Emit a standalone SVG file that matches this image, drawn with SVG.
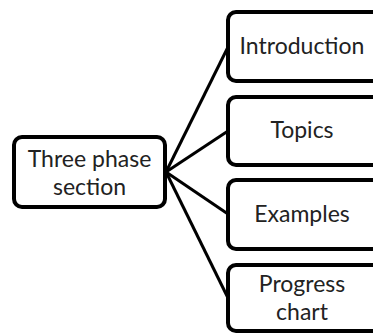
<svg xmlns="http://www.w3.org/2000/svg" width="373" height="335" viewBox="0 0 373 335">
<style>
.box{fill:#fff;stroke:#000;stroke-width:4}
.lbl{font-family:Lato,"Open Sans",sans-serif;font-size:23px;fill:#222;text-anchor:middle}
.con{stroke:#000;stroke-width:3;fill:none}
</style>
<rect width="373" height="335" fill="#fff"/>
<g id="connectors">
<line class="con" x1="166" y1="172" x2="228" y2="47"/>
<line class="con" x1="166" y1="172" x2="228" y2="131"/>
<line class="con" x1="166" y1="172" x2="228" y2="214"/>
<line class="con" x1="166" y1="172" x2="228" y2="298"/>
</g>
<g id="root">
<rect class="box" x="14" y="137" width="151" height="70" rx="8"/>
<text class="lbl" x="89.5" y="167">Three phase</text>
<text class="lbl" x="89.5" y="195">section</text>
</g>
<g id="introduction">
<rect class="box" x="228" y="12" width="170" height="69" rx="8"/>
<text class="lbl" x="302" y="54">Introduction</text>
</g>
<g id="topics">
<rect class="box" x="228" y="97" width="170" height="68" rx="8"/>
<text class="lbl" x="302" y="138">Topics</text>
</g>
<g id="examples">
<rect class="box" x="228" y="180" width="170" height="69" rx="8"/>
<text class="lbl" x="302" y="222">Examples</text>
</g>
<g id="progress">
<rect class="box" x="228" y="265" width="170" height="66" rx="8"/>
<text class="lbl" x="302" y="292">Progress</text>
<text class="lbl" x="302" y="320">chart</text>
</g>
</svg>
